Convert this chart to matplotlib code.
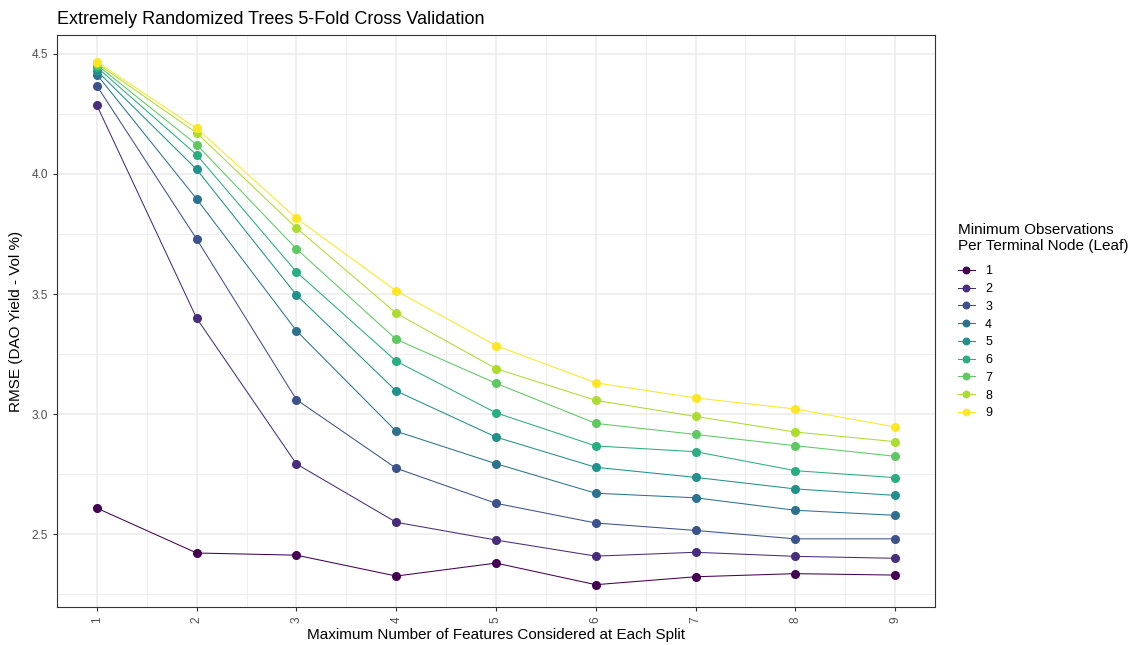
import numpy as np
import matplotlib.pyplot as plt
from matplotlib.ticker import MultipleLocator

plt.rcParams['font.family'] = ['Liberation Sans', 'DejaVu Sans']

max_features = [1, 2, 3, 4, 5, 6, 7, 8, 9]
leaf_sizes = ['1', '2', '3', '4', '5', '6', '7', '8', '9']

# RMSE per min leaf size, one list per leaf size
rmse_leaf1 = [2.608, 2.421, 2.412, 2.325, 2.379, 2.289, 2.322, 2.335, 2.329]
rmse_leaf2 = [4.286, 3.399, 2.792, 2.549, 2.475, 2.408, 2.424, 2.407, 2.399]
rmse_leaf3 = [4.367, 3.729, 3.060, 2.774, 2.628, 2.546, 2.515, 2.480, 2.480]
rmse_leaf4 = [4.414, 3.896, 3.347, 2.928, 2.793, 2.670, 2.651, 2.599, 2.578]
rmse_leaf5 = [4.430, 4.019, 3.496, 3.096, 2.904, 2.778, 2.736, 2.688, 2.661]
rmse_leaf6 = [4.445, 4.080, 3.592, 3.220, 3.005, 2.867, 2.843, 2.764, 2.735]
rmse_leaf7 = [4.455, 4.122, 3.688, 3.311, 3.128, 2.961, 2.915, 2.868, 2.824]
rmse_leaf8 = [4.461, 4.171, 3.775, 3.420, 3.189, 3.057, 2.990, 2.925, 2.885]
rmse_leaf9 = [4.467, 4.190, 3.815, 3.513, 3.285, 3.130, 3.067, 3.021, 2.946]

all_rmse = [rmse_leaf1, rmse_leaf2, rmse_leaf3, rmse_leaf4, rmse_leaf5,
            rmse_leaf6, rmse_leaf7, rmse_leaf8, rmse_leaf9]

fig = plt.figure(figsize=(11.44, 6.45), dpi=100)
ax = fig.add_axes([0.0498, 0.0589, 0.7675, 0.8868])

colors = plt.cm.viridis(np.linspace(0, 1, len(leaf_sizes)))
for lab, vals, c in zip(leaf_sizes, all_rmse, colors):
    ax.plot(max_features, vals, '-o', color=c, lw=0.75, ms=5.5, label=lab)

ax.set_xlim(0.6, 9.4)
ax.set_ylim(2.196, 4.579)
ax.set_xticks(max_features)
ax.xaxis.set_minor_locator(MultipleLocator(0.5))
ax.yaxis.set_major_locator(MultipleLocator(0.5))
ax.yaxis.set_minor_locator(MultipleLocator(0.25))
ax.set_axisbelow(True)
ax.grid(which='major', color='#ebebeb', lw=1.1)
ax.grid(which='minor', color='#ebebeb', lw=0.55)
for s in ax.spines.values():
    s.set_color('#333333')
    s.set_linewidth(0.8)
ax.tick_params(which='major', colors='#333333', labelcolor='#4d4d4d',
               labelsize=8.5, length=3, width=0.8)
ax.tick_params(which='minor', length=0)
ax.tick_params(axis='x', labelrotation=90)

ax.set_xlabel('Maximum Number of Features Considered at Each Split', fontsize=11, labelpad=4)
ax.set_ylabel('RMSE (DAO Yield - Vol %)', fontsize=11, labelpad=6)
ax.set_title('Extremely Randomized Trees 5-Fold Cross Validation', fontsize=13, loc='left', pad=8)

leg = ax.legend(title='Minimum Observations\nPer Terminal Node (Leaf)', loc='center left',
                bbox_to_anchor=(1.013, 0.5), frameon=False, fontsize=9, title_fontsize=11,
                handlelength=1.4, labelspacing=0.46, markerscale=0.85)
leg._legend_box.align = 'left'
leg._legend_box.sep = 9

fig.savefig('out.png', dpi=100)
